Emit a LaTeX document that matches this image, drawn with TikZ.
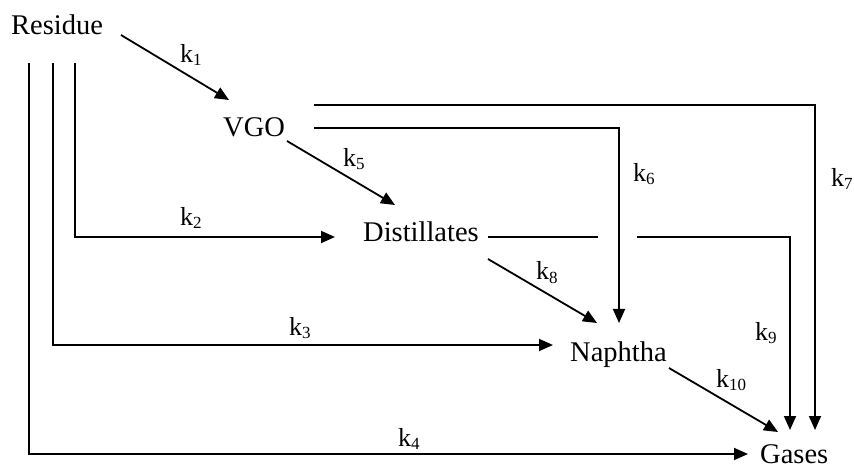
\documentclass[tikz,border=0pt]{standalone}
\usepackage{fontspec}
\setmainfont{Liberation Serif}
\usetikzlibrary{arrows.meta}
\newcommand{\kl}[1]{k\raisebox{-3pt}{\fontsize{17}{20}\selectfont #1}}
\tikzset{
  species/.style={anchor=base west,inner sep=0pt,font=\fontsize{28.5}{34}\selectfont},
  rate/.style={anchor=base west,inner sep=0pt,font=\fontsize{26}{30}\selectfont},
  conn/.style={line width=1.8pt},
  arr/.style={conn,-{Triangle[length=14pt,width=12pt]}}
}
\begin{document}
\begin{tikzpicture}[x=1pt,y=-1pt]
\useasboundingbox (0,0) rectangle (854,470);
% species
\node[species] (res) at (11,35) {Residue};
\node[species] (vgo) at (223,137) {VGO};
\node[species] (dis) at (363,242) {Distillates};
\node[species] (nap) at (570,361) {Naphtha};
\node[species] (gas) at (760,463) {Gases};
% connector ends
\coordinate (r1) at (121,35);   \coordinate (v1) at (229,100);
\coordinate (r2) at (75,63);    \coordinate (d2) at (335,237);
\coordinate (r3) at (53,63);    \coordinate (n3) at (553,345);
\coordinate (r4) at (29,63);    \coordinate (g4) at (748,454);
\coordinate (v5) at (287,141);  \coordinate (d5) at (395,205);
\coordinate (v6) at (314,128);  \coordinate (n6) at (619,323);
\coordinate (v7) at (314,105);  \coordinate (g7) at (815,430);
\coordinate (d8) at (488,259);  \coordinate (n8) at (597,323);
\coordinate (d9a) at (488,237); \coordinate (d9b) at (598,237);
\coordinate (d9c) at (637,237); \coordinate (g9) at (790,430);
\coordinate (n10) at (669,368); \coordinate (g10) at (778,432);
% connectors
\draw[arr] (r1) -- (v1);
\draw[arr] (r2) |- (d2);
\draw[arr] (r3) |- (n3);
\draw[arr] (r4) |- (g4);
\draw[arr] (v5) -- (d5);
\draw[arr] (v6) -| (n6);
\draw[arr] (v7) -| (g7);
\draw[arr] (d8) -- (n8);
\draw[conn] (d9a) -- (d9b);
\draw[arr] (d9c) -| (g9);
\draw[arr] (n10) -- (g10);
% rate labels
\node[rate] (k1) at (180,63) {\kl{1}};
\node[rate] (k2) at (180,226) {\kl{2}};
\node[rate] (k3) at (289,335) {\kl{3}};
\node[rate] (k4) at (398,446) {\kl{4}};
\node[rate] (k5) at (343,167) {\kl{5}};
\node[rate] (k6) at (633,182) {\kl{6}};
\node[rate] (k7) at (831,187) {\kl{7}};
\node[rate] (k8) at (536,280) {\kl{8}};
\node[rate] (k9) at (755,340) {\kl{9}};
\node[rate] (k10) at (716,387) {\kl{10}};
\end{tikzpicture}
\end{document}
